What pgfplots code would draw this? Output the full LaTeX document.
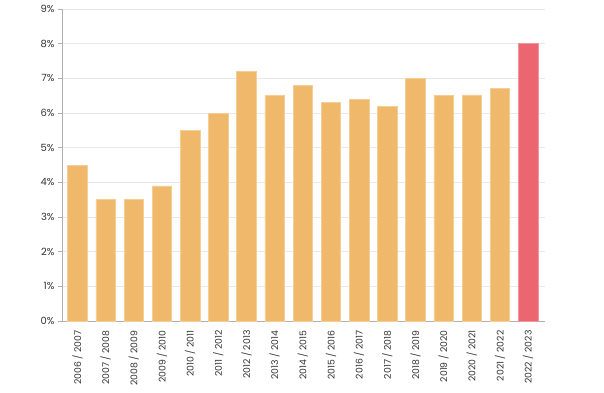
\documentclass[border=0pt]{standalone}
\usepackage{pgfplots}
\pgfplotsset{compat=1.18}
\usepackage{fontspec}
\setmainfont{Poppins}
\definecolor{barA}{HTML}{F0B86B}
\definecolor{barB}{HTML}{EC6672}
\definecolor{txt}{HTML}{333333}
\definecolor{ax}{HTML}{B0B0B0}
\begin{document}
\begin{tikzpicture}
\path[use as bounding box] (-62bp,-72bp) rectangle (542bp,321bp);
\begin{axis}[
  at={(0,0)}, anchor=south west,
  scale only axis, width=483bp, height=312bp,
  xmin=-0.55, xmax=16.6, ymin=0, ymax=9,
  ytick={0,...,9},
  xtick={0,...,16},
  xticklabels={2006 / 2007,2007 / 2008,2008 / 2009,2009 / 2010,2010 / 2011,2011 / 2012,2012 / 2013,2013 / 2014,2014 / 2015,2015 / 2016,2016 / 2017,2017 / 2018,2018 / 2019,2019 / 2020,2020 / 2021,2021 / 2022,2022 / 2023},
  x tick label style={rotate=90, anchor=east, font=\fontsize{9.3}{10}\selectfont, text=txt},
  y tick label style={font=\fontsize{10}{11}\selectfont, text=txt},
  yticklabel={\pgfmathprintnumber{\tick}\%},
  /pgf/number format/assume math mode=true,
  axis x line*=bottom, axis y line*=left,
  axis line style={ax, line width=1bp},
  x axis line style={-}, y axis line style={-},
  major x tick style={draw=none},
  major y tick style={ax, line width=0.8bp},
  tick align=outside, major tick length=4bp,
  ymajorgrids, grid style={gray!18, line width=0.9bp},
  xticklabel shift=2bp,
  ybar, bar width=19.5bp, bar shift=0pt,
]
\addplot[fill=barA, draw=barA!70!white, line width=0.6bp] coordinates {
(0,4.5)(1,3.5)(2,3.5)(3,3.9)(4,5.5)(5,6.0)(6,7.2)(7,6.5)(8,6.8)(9,6.3)(10,6.4)(11,6.2)(12,7.0)(13,6.5)(14,6.52)(15,6.7)};
\addplot[fill=barB, draw=barB!70!white, line width=0.6bp] coordinates {(16,8.0)};
\end{axis}
\end{tikzpicture}
\end{document}
